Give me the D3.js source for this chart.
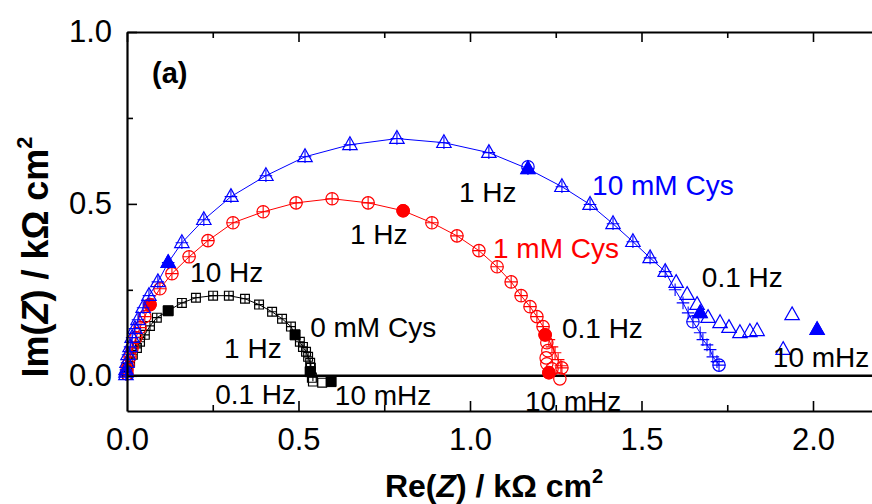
<!DOCTYPE html>
<html><head><meta charset="utf-8">
<script src="https://cdn.jsdelivr.net/npm/d3@7"></script>
<style>
body{margin:0;background:#fff}
svg{display:block}
text{font-family:"Liberation Sans",Arial,Helvetica,sans-serif}
</style>
</head><body>
<svg id="chart" width="872" height="504"></svg>
<script>
// ---------- axis ticks ----------
const xTicks = [0, 0.5, 1.0, 1.5, 2.0];
const xTickLabels = ["0.0", "0.5", "1.0", "1.5", "2.0"];
const xMinorTicks = [0.25, 0.75, 1.25, 1.75];
const yTicks = [0, 0.5, 1.0];
const yTickLabels = ["0.0", "0.5", "1.0"];
const yMinorTicks = [0.25, 0.75];

// ---------- data: [Re(Z), Im(Z)] in kOhm cm^2 ----------
// 0 mM Cys (black squares = measured, + = fit)
const cys0Meas = [[0.000,0.002],[0.001,0.012],[0.003,0.023],[0.009,0.041],[0.017,0.061],[0.029,0.081],[0.038,0.099],[0.052,0.119],[0.067,0.145],[0.087,0.169],[0.120,0.189],[0.160,0.212],[0.201,0.227],[0.251,0.233],[0.297,0.233],[0.344,0.224],[0.385,0.207],[0.423,0.186],[0.452,0.166],[0.478,0.143],[0.490,0.119],[0.504,0.099],[0.513,0.084],[0.522,0.070],[0.528,0.055],[0.534,0.038],[0.536,0.023],[0.534,0.012],[0.539,-0.006],[0.542,-0.017],[0.569,-0.020],[0.595,-0.017]];
const cys0Fit = [[0.000,0.002],[0.001,0.012],[0.003,0.023],[0.009,0.041],[0.017,0.061],[0.029,0.081],[0.038,0.099],[0.052,0.119],[0.067,0.145],[0.087,0.169],[0.120,0.189],[0.160,0.212],[0.201,0.227],[0.251,0.233],[0.297,0.233],[0.344,0.224],[0.385,0.207],[0.423,0.186],[0.452,0.166],[0.478,0.143],[0.490,0.119],[0.504,0.099],[0.513,0.084],[0.522,0.070],[0.528,0.055],[0.534,0.038],[0.536,0.023],[0.539,0.009],[0.542,-0.003]];
const cys0Marked = [[0.120,0.189],[0.490,0.119],[0.534,0.012],[0.595,-0.017]]; // 10 Hz, 1 Hz, 0.1 Hz, 10 mHz

// 1 mM Cys (red circles = measured, + = fit)
const cys1Meas = [[0.000,0.006],[0.000,0.017],[0.003,0.032],[0.009,0.055],[0.015,0.081],[0.026,0.111],[0.038,0.140],[0.052,0.172],[0.067,0.207],[0.096,0.253],[0.131,0.297],[0.181,0.346],[0.236,0.393],[0.309,0.445],[0.397,0.477],[0.493,0.503],[0.598,0.515],[0.703,0.503],[0.805,0.480],[0.889,0.445],[0.962,0.407],[1.026,0.364],[1.079,0.317],[1.120,0.273],[1.149,0.233],[1.175,0.201],[1.195,0.172],[1.213,0.143],[1.219,0.119],[1.224,0.096],[1.227,0.073],[1.222,0.052],[1.224,0.035],[1.239,0.020],[1.230,0.009],[1.262,-0.009]];
const cys1Fit = [[0.000,0.006],[0.000,0.017],[0.003,0.032],[0.009,0.055],[0.015,0.081],[0.026,0.111],[0.038,0.140],[0.052,0.172],[0.067,0.207],[0.096,0.253],[0.131,0.297],[0.181,0.346],[0.236,0.393],[0.309,0.445],[0.397,0.477],[0.493,0.503],[0.598,0.515],[0.703,0.503],[0.805,0.480],[0.889,0.445],[0.962,0.407],[1.026,0.364],[1.079,0.317],[1.120,0.273],[1.149,0.233],[1.175,0.201],[1.195,0.172],[1.213,0.143],[1.230,0.105],[1.239,0.084],[1.248,0.067],[1.257,0.047],[1.265,0.029],[1.268,0.023]];
const cys1Marked = [[0.067,0.207],[0.805,0.480],[1.219,0.119],[1.230,0.009]];
const cys1FitMarked = [[1.268,0.023]];

// 10 mM Cys (blue triangles = measured, + = fit)
const cys10Meas = [[-0.003,0.003],[-0.003,0.010],[-0.003,0.017],[0.000,0.038],[0.003,0.061],[0.009,0.084],[0.015,0.111],[0.023,0.137],[0.032,0.163],[0.047,0.198],[0.064,0.233],[0.090,0.273],[0.120,0.329],[0.160,0.387],[0.224,0.454],[0.303,0.521],[0.405,0.582],[0.519,0.637],[0.650,0.672],[0.787,0.690],[0.924,0.678],[1.055,0.649],[1.169,0.602],[1.268,0.550],[1.350,0.498],[1.417,0.442],[1.475,0.390],[1.525,0.343],[1.569,0.303],[1.601,0.271],[1.633,0.236],[1.662,0.207],[1.671,0.183],[1.694,0.169],[1.729,0.154],[1.755,0.140],[1.787,0.125],[1.816,0.128],[1.837,0.131],[1.913,0.076],[1.939,0.177],[2.012,0.134]];
const cys10Fit = [[-0.003,0.003],[-0.003,0.010],[-0.003,0.017],[0.000,0.038],[0.003,0.061],[0.009,0.084],[0.015,0.111],[0.023,0.137],[0.032,0.163],[0.047,0.198],[0.064,0.233],[0.090,0.273],[0.120,0.329],[0.160,0.387],[0.224,0.454],[0.303,0.521],[0.405,0.582],[0.519,0.637],[0.650,0.672],[0.787,0.690],[0.924,0.678],[1.055,0.649],[1.169,0.602],[1.268,0.550],[1.350,0.498],[1.417,0.442],[1.475,0.390],[1.525,0.343],[1.569,0.303],[1.598,0.250],[1.621,0.212],[1.636,0.183],[1.650,0.157],[1.671,0.125],[1.679,0.105],[1.691,0.090],[1.700,0.076],[1.708,0.055],[1.720,0.041],[1.726,0.031]];
const cys10Marked = [[0.120,0.329],[1.169,0.602],[1.671,0.183],[2.012,0.134]];
const cys10FitMarked = [[1.169,0.608],[1.650,0.157],[1.726,0.031]];

// ---------- annotations: text anchored at [Re, Im] (left, baseline) ----------
const annoText = ["10 Hz","1 Hz","10 mM Cys","1 Hz","1 mM Cys","0.1 Hz","0 mM Cys","1 Hz","0.1 Hz","10 mHz","0.1 Hz","10 mHz","10 mHz"];
const annoAt = [[0.184,0.273],[0.968,0.506],[1.356,0.527],[0.650,0.384],[1.067,0.343],[1.676,0.259],[0.534,0.113],[0.283,0.052],[1.268,0.111],[1.883,0.026],[0.257,-0.081],[0.606,-0.084],[1.160,-0.102]];
const annoColor = ["#000","#000","#0000ff","#000","#ff0000","#000","#000","#000","#000","#000","#000","#000","#000"];

// ---------- drawing ----------
const svg = d3.select("#chart");
const x = d3.scaleLinear().domain([0, 2.2]).range([127, 127 + 2.2 * 343]);
const y = d3.scaleLinear().domain([-0.1025, 1.0]).range([411, 32]);
const X0 = 127, X1 = 872, Y0 = 411, Y1 = 32;

// zero line
svg.append("line").attr("x1", x(0)).attr("x2", X1).attr("y1", y(0)).attr("y2", y(0))
  .attr("stroke", "#000").attr("stroke-width", 2.6);

const line = d3.line().x(d => x(d[0])).y(d => y(d[1]));

function plusPath(s){ return `M${-s},0H${s}M0,${-s}V${s}`; }
const triPath = "M0,-8L7.2,4.8L-7.2,4.8Z";

function drawSeries(color, meas, fit, marked, fitMarked, kind){
  const g = svg.append("g");
  g.append("path").datum(fit).attr("d", line).attr("fill","none").attr("stroke", color).attr("stroke-width", 1);
  const ps = kind === "square" ? 4.4 : 6.3;
  g.selectAll(null).data(fit).join("path")
    .attr("transform", d => `translate(${x(d[0])},${y(d[1])})`)
    .attr("d", plusPath(ps)).attr("fill","none").attr("stroke", color).attr("stroke-width", 1.1);
  const m = g.selectAll(null).data(meas).join("path")
    .attr("transform", d => `translate(${x(d[0])},${y(d[1])})`)
    .attr("fill","none").attr("stroke", color).attr("stroke-width", 1.2);
  if (kind === "square") m.attr("d", "M-4.4,-4.4H4.4V4.4H-4.4Z");
  else if (kind === "circle") m.attr("d", d3.symbol(d3.symbolCircle, Math.PI*6.2*6.2)());
  else m.attr("d", triPath);
  g.selectAll(null).data(fitMarked).join("circle")
    .attr("cx", d => x(d[0])).attr("cy", d => y(d[1])).attr("r", 6.2)
    .attr("fill","none").attr("stroke", color).attr("stroke-width", 1.2);
  const f = g.selectAll(null).data(marked).join("path")
    .attr("transform", d => `translate(${x(d[0])},${y(d[1])})`)
    .attr("fill", color).attr("stroke", color).attr("stroke-width", 1);
  if (kind === "square") f.attr("d", "M-5,-5H5V5H-5Z");
  else if (kind === "circle") f.attr("d", d3.symbol(d3.symbolCircle, Math.PI*6.3*6.3)());
  else f.attr("d", triPath);
}

drawSeries("#000000", cys0Meas, cys0Fit, cys0Marked, [], "square");
drawSeries("#ff0000", cys1Meas, cys1Fit, cys1Marked, cys1FitMarked, "circle");
drawSeries("#0000ff", cys10Meas, cys10Fit, cys10Marked, cys10FitMarked, "triangle");

// annotations
svg.append("g").selectAll("text").data(annoText).join("text")
  .attr("x", (d,i) => x(annoAt[i][0])).attr("y", (d,i) => y(annoAt[i][1]))
  .attr("fill", (d,i) => annoColor[i]).attr("font-size", 28).text(d => d);

// axes
function styleAxis(g){
  g.select(".domain").attr("stroke-width", 2.2);
  g.selectAll(".tick line").attr("stroke-width", 1.6);
  g.selectAll("text").attr("font-size", 31).attr("font-family", '"Liberation Sans",Arial,sans-serif').attr("fill","#000");
}
const axB = svg.append("g").attr("transform", `translate(0,${Y0})`)
  .call(d3.axisBottom(x).tickValues(xTicks).tickFormat((d,i) => xTickLabels[i]).tickSizeInner(-10).tickSizeOuter(0).tickPadding(17));
styleAxis(axB);
axB.selectAll(".tick").filter(d => d === 0).select("line").remove();
svg.append("g").attr("transform", `translate(0,${Y0})`)
  .call(d3.axisBottom(x).tickValues(xMinorTicks).tickFormat("").tickSizeInner(-6).tickSizeOuter(0))
  .call(g => { g.select(".domain").remove(); g.selectAll("line").attr("stroke-width",1.6); });

const axT = svg.append("g").attr("transform", `translate(0,${Y1})`)
  .call(d3.axisTop(x).tickValues(xTicks).tickFormat("").tickSizeInner(-10).tickSizeOuter(0));
styleAxis(axT);
svg.append("g").attr("transform", `translate(0,${Y1})`)
  .call(d3.axisTop(x).tickValues(xMinorTicks).tickFormat("").tickSizeInner(-6).tickSizeOuter(0))
  .call(g => { g.select(".domain").remove(); g.selectAll("line").attr("stroke-width",1.6); });

const axL = svg.append("g").attr("transform", `translate(${X0},0)`)
  .call(d3.axisLeft(y).tickValues(yTicks).tickFormat((d,i) => yTickLabels[i]).tickSizeInner(-10).tickSizeOuter(0).tickPadding(15));
styleAxis(axL);
svg.append("g").attr("transform", `translate(${X0},0)`)
  .call(d3.axisLeft(y).tickValues(yMinorTicks).tickFormat("").tickSizeInner(-6).tickSizeOuter(0))
  .call(g => { g.select(".domain").remove(); g.selectAll("line").attr("stroke-width",1.6); });

// panel label
svg.append("text").attr("x", 152).attr("y", 83).attr("font-size", 29).attr("font-weight", "bold").text("(a)");

// axis titles
const xt = svg.append("text").attr("x", 494).attr("y", 497).attr("text-anchor","middle")
  .attr("font-size", 32).attr("font-weight","bold");
xt.append("tspan").text("Re(");
xt.append("tspan").attr("font-style","italic").text("Z");
xt.append("tspan").text(") / k\u03A9 cm");
xt.append("tspan").attr("font-size", 20).attr("dy", -14).text("2");

const yt = svg.append("text").attr("transform","translate(48,257) rotate(-90)").attr("text-anchor","middle")
  .attr("font-size", 36).attr("font-weight","bold");
yt.append("tspan").text("Im(");
yt.append("tspan").attr("font-style","italic").text("Z");
yt.append("tspan").text(") / k\u03A9 cm");
yt.append("tspan").attr("font-size", 22).attr("dy", -16).text("2");
</script>
</body></html>
